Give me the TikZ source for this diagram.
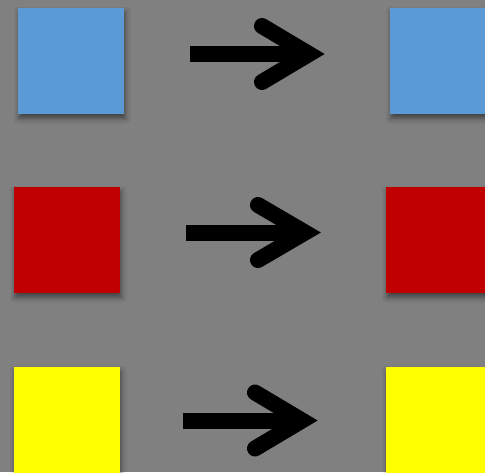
\documentclass[tikz,border=0pt]{standalone}
\usepackage{xcolor}
\usepackage{tikz}
\usetikzlibrary{positioning, shadows.blur}
\definecolor{bggray}{HTML}{808080}
\definecolor{tileblue}{HTML}{5B9BD5}
\definecolor{tilered}{HTML}{C00000}
\definecolor{tileyellow}{HTML}{FFFF00}
\tikzset{
  tile/.style={rectangle, draw=none, anchor=north west, inner sep=0pt, minimum size=106pt,
               blur shadow={shadow xshift=1pt, shadow yshift=-4pt, shadow blur radius=5pt, shadow opacity=50}},
  shaft/.style={draw=black, line width=16pt, line cap=butt},
  barb/.style={draw=black, line width=16pt, line cap=round, line join=miter},
}

\begin{document}
\begin{tikzpicture}[x=1pt, y=-1pt]
\clip (0,0) rectangle (485,472);
\fill[bggray] (0,0) rectangle (485,472); % background
% left column
\node[tile, fill=tileblue] (bluein) at (18,8) {};
\node[tile, fill=tilered] (redin) at (14,187) {};
\node[tile, fill=tileyellow] (yellowin) at (14,367) {};
% right column
\node[tile, fill=tileblue] (blueout) at (390,8) {};
\node[tile, fill=tilered] (redout) at (386,187) {};
\node[tile, fill=tileyellow] (yellowout) at (386,367) {};
% arrows
\coordinate (bluefrom) at (190,54);   \coordinate (blueto) at (309,54);
\coordinate (redfrom) at (186,232.5); \coordinate (redto) at (305,232.5);
\coordinate (yellowfrom) at (183,420.5); \coordinate (yellowto) at (302,420.5);
\draw[shaft] (bluefrom) -- (blueto);
\draw[barb] (blueto) ++(-47,-28) -- (blueto) -- ++(-47,28);
\draw[shaft] (redfrom) -- (redto);
\draw[barb] (redto) ++(-47,-27.5) -- (redto) -- ++(-47,27.5);
\draw[shaft] (yellowfrom) -- (yellowto);
\draw[barb] (yellowto) ++(-47,-28) -- (yellowto) -- ++(-47,28);
\end{tikzpicture}
\end{document}
